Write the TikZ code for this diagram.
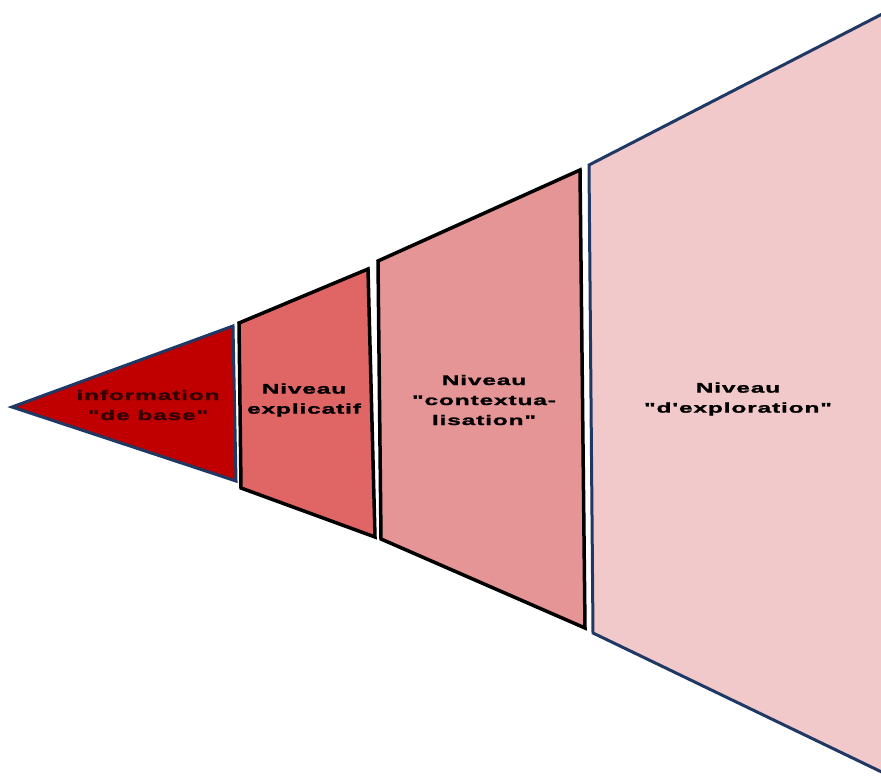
\documentclass[tikz,border=0pt]{standalone}
\usepackage{fontspec}
\newfontfamily\lvlfont[FakeStretch=1.75,LetterSpace=6,FakeBold=1.5]{Liberation Sans}

\definecolor{navy}{RGB}{31,56,100}
\definecolor{lvlA}{RGB}{192,0,0}
\definecolor{lvlB}{RGB}{224,102,102}
\definecolor{lvlC}{RGB}{230,149,150}
\definecolor{lvlD}{RGB}{242,201,202}

\begin{document}
\begin{tikzpicture}[x=1pt,y=-1pt,
    lvltext/.style={align=center,font=\lvlfont\bfseries\fontsize{14}{20}\selectfont}]
\useasboundingbox (0,0) rectangle (881,782);
\clip (0,0) rectangle (881,782);

% the four levels, from the tip to the widest
\filldraw[fill=lvlA, draw=navy, line width=3pt] (12,407) -- (233,326) -- (236,481) -- cycle;
\filldraw[fill=lvlB, draw=black, line width=3.5pt] (239,323) -- (368,269) -- (375,537) -- (241,488) -- cycle;
\filldraw[fill=lvlC, draw=black, line width=3.5pt] (378,261) -- (580,170) -- (585,628) -- (381,539) -- cycle;
\filldraw[fill=lvlD, draw=navy, line width=3pt] (589,165) -- (890,10) -- (890,776) -- (593,633) -- cycle;

% labels
\node[lvltext, text={rgb,255:red,50;green,0;blue,0}] (info) at (148,405) {information\\"de base"};
\node[lvltext] (expl) at (304,400) {Niveau\\explicatif};
\node[lvltext] (ctx) at (484,400) {Niveau\\"contextua-\\lisation"};
\node[lvltext] (explo) at (738,399) {Niveau\\"d'exploration"};
\end{tikzpicture}
\end{document}
